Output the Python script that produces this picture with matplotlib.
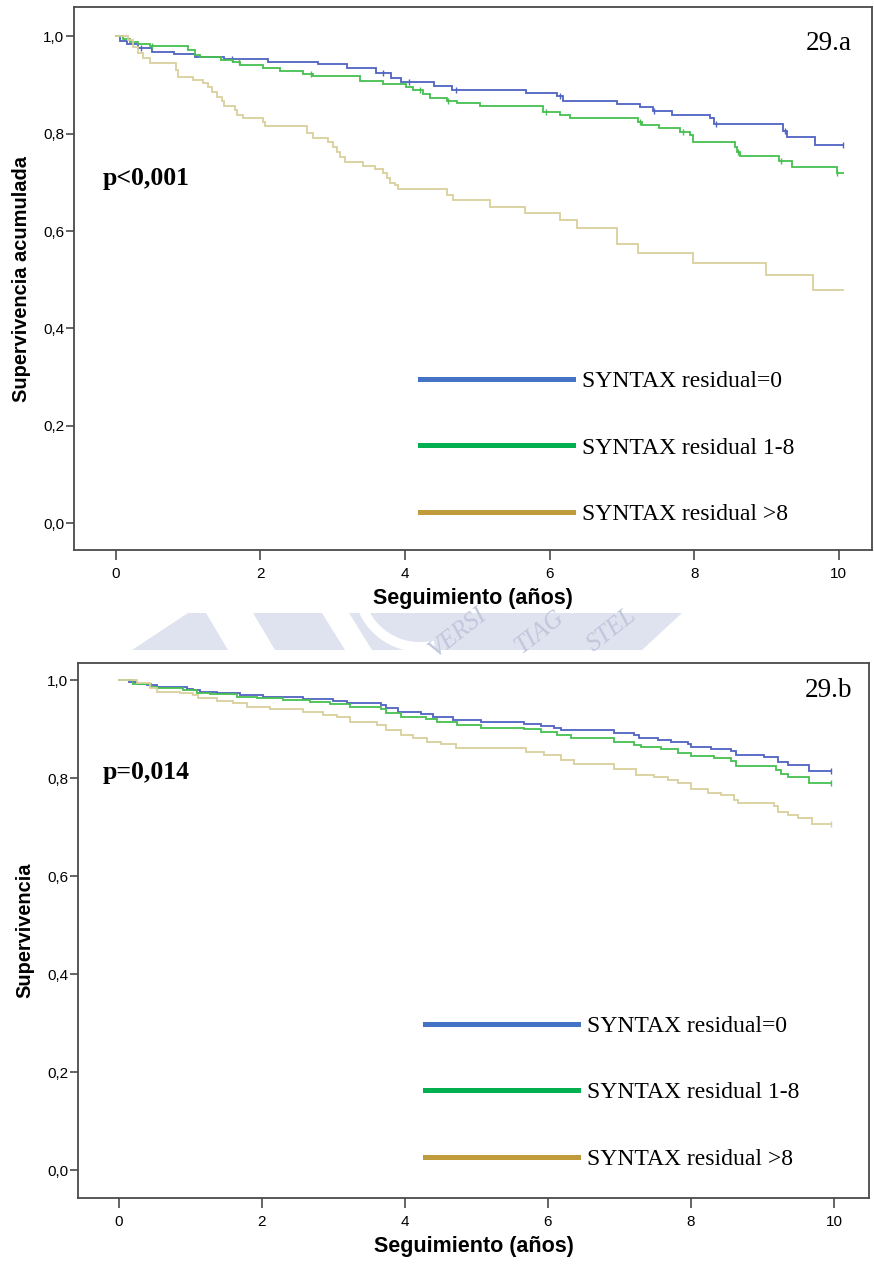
import numpy as np
import matplotlib
matplotlib.use("Agg")
import matplotlib.pyplot as plt
from matplotlib.lines import Line2D
from matplotlib.patches import Polygon

# ---------------- data ----------------
group_labels = ["SYNTAX residual=0", "SYNTAX residual 1-8", "SYNTAX residual >8"]

# 29.a  Kaplan-Meier (event times, survival after the event)
a0_t = [0.05, 0.15, 0.30, 0.50, 0.80, 1.10, 1.50, 2.10, 2.80, 3.20, 3.60, 3.80, 3.95,
        4.40, 4.65, 5.68, 6.10, 6.18, 6.93, 7.25, 7.43, 7.70, 8.22, 8.28, 9.23, 9.28, 9.67]
a0_s = [0.990, 0.985, 0.975, 0.968, 0.964, 0.958, 0.953, 0.948, 0.943, 0.935, 0.925, 0.915,
        0.905, 0.897, 0.889, 0.883, 0.877, 0.867, 0.860, 0.854, 0.846, 0.838, 0.832, 0.819,
        0.805, 0.793, 0.776]
a0_end = 10.06
a0_cens = [0.35, 1.6, 3.7, 4.05, 4.7, 6.15, 7.45, 8.3, 9.25, 10.06]

a1_t = [0.10, 0.19, 0.30, 0.47, 1.00, 1.09, 1.16, 1.45, 1.62, 1.72, 2.03, 2.27, 2.59, 2.72,
        3.37, 3.69, 4.02, 4.11, 4.25, 4.34, 4.58, 4.72, 5.03, 5.91, 6.14, 6.28, 7.22, 7.28,
        7.52, 7.80, 7.94, 7.98, 8.56, 8.59, 8.63, 9.18, 9.36, 9.97]
a1_s = [0.994, 0.988, 0.984, 0.979, 0.971, 0.961, 0.957, 0.952, 0.947, 0.940, 0.934, 0.928,
        0.922, 0.918, 0.908, 0.901, 0.895, 0.889, 0.881, 0.873, 0.866, 0.862, 0.856, 0.844,
        0.838, 0.832, 0.823, 0.817, 0.811, 0.803, 0.797, 0.782, 0.772, 0.762, 0.754, 0.743,
        0.731, 0.719]
a1_end = 10.06
a1_cens = [0.5, 1.7, 2.7, 4.2, 4.6, 5.95, 7.25, 7.85, 8.6, 9.2, 9.97]

a2_t = [0.17, 0.24, 0.30, 0.37, 0.47, 0.83, 0.86, 1.07, 1.20, 1.27, 1.33, 1.40, 1.47, 1.49,
        1.65, 1.67, 1.76, 2.03, 2.06, 2.64, 2.72, 2.93, 3.00, 3.06, 3.10, 3.17, 3.42, 3.58,
        3.69, 3.75, 3.79, 3.86, 3.90, 4.58, 4.66, 5.17, 5.66, 6.15, 6.38, 6.93, 7.22, 7.99,
        9.00, 9.64]
a2_s = [0.992, 0.977, 0.965, 0.955, 0.945, 0.930, 0.916, 0.910, 0.903, 0.895, 0.885, 0.875,
        0.867, 0.856, 0.848, 0.838, 0.832, 0.823, 0.815, 0.801, 0.791, 0.782, 0.772, 0.762,
        0.752, 0.741, 0.733, 0.727, 0.719, 0.708, 0.698, 0.694, 0.686, 0.673, 0.663, 0.649,
        0.637, 0.622, 0.606, 0.573, 0.554, 0.534, 0.509, 0.478]
a2_end = 10.06

# 29.b  Adjusted survival
b0_t = [0.15, 0.25, 0.39, 0.53, 0.95, 1.04, 1.13, 1.37, 1.69, 2.02, 2.58, 3.00, 3.19, 3.66,
        3.73, 3.91, 4.22, 4.40, 4.68, 5.06, 5.66, 5.90, 6.08, 6.18, 6.92, 7.20, 7.27, 7.54,
        7.72, 7.96, 8.00, 8.28, 8.56, 8.63, 9.02, 9.22, 9.36, 9.65]
b0_s = [0.996, 0.993, 0.990, 0.986, 0.982, 0.979, 0.976, 0.974, 0.969, 0.965, 0.962, 0.957,
        0.953, 0.949, 0.943, 0.935, 0.930, 0.924, 0.918, 0.914, 0.911, 0.907, 0.903, 0.898,
        0.892, 0.888, 0.882, 0.878, 0.873, 0.870, 0.863, 0.859, 0.855, 0.847, 0.843, 0.833,
        0.827, 0.814]
b0_end = 9.96

b1_t = [0.20, 0.45, 0.53, 0.90, 1.10, 1.28, 1.65, 1.93, 2.30, 2.67, 2.95, 3.24, 3.66, 3.73,
        3.94, 4.30, 4.45, 4.73, 5.06, 5.66, 5.90, 6.13, 6.32, 6.92, 7.20, 7.30, 7.58, 7.82,
        8.00, 8.32, 8.56, 8.63, 9.19, 9.26, 9.36, 9.65]
b1_s = [0.993, 0.986, 0.984, 0.980, 0.973, 0.971, 0.965, 0.963, 0.959, 0.955, 0.951, 0.945,
        0.941, 0.933, 0.924, 0.920, 0.914, 0.908, 0.903, 0.900, 0.894, 0.888, 0.882, 0.873,
        0.867, 0.863, 0.859, 0.851, 0.845, 0.841, 0.835, 0.824, 0.816, 0.808, 0.802, 0.790]
b1_end = 9.96

b2_t = [0.25, 0.43, 0.53, 0.85, 1.04, 1.11, 1.37, 1.60, 1.79, 2.11, 2.58, 2.86, 3.05, 3.24,
        3.61, 3.73, 3.94, 4.12, 4.31, 4.50, 4.71, 5.69, 5.94, 6.18, 6.36, 6.92, 7.23, 7.48,
        7.68, 7.82, 8.00, 8.24, 8.42, 8.60, 8.66, 9.16, 9.22, 9.36, 9.50, 9.69]
b2_s = [0.994, 0.984, 0.976, 0.973, 0.969, 0.963, 0.957, 0.953, 0.945, 0.941, 0.935, 0.929,
        0.924, 0.914, 0.908, 0.898, 0.888, 0.882, 0.873, 0.869, 0.861, 0.853, 0.847, 0.837,
        0.829, 0.818, 0.806, 0.802, 0.796, 0.790, 0.778, 0.769, 0.765, 0.755, 0.749, 0.743,
        0.731, 0.724, 0.718, 0.706]
b2_end = 9.96

x_ticks = [0, 2, 4, 6, 8, 10]
y_ticks = [0.0, 0.2, 0.4, 0.6, 0.8, 1.0]
y_ticklabels = ["0,0", "0,2", "0,4", "0,6", "0,8", "1,0"]

# ---------------- style ----------------
curve_colors = ["#4f63c2", "#45bf4f", "#d9d09c"]
legend_colors = ["#4472c4", "#00b050", "#c09b3c"]
spine_color = "#4a4a4a"
sans = ["Liberation Sans Narrow", "Liberation Sans", "DejaVu Sans"]
serif = ["Liberation Serif", "DejaVu Serif"]

W, H = 874, 1264
fig = plt.figure(figsize=(W / 100, H / 100), dpi=100)


def px_axes(left, top, right, bottom):
    return fig.add_axes([left / W, 1 - bottom / H, (right - left) / W, (bottom - top) / H])


def km_curve(ax, t, s, end, color):
    xs = np.r_[0.0, t, end]
    ys = np.r_[1.0, s, s[-1]]
    ax.step(xs, ys, where="post", color=color, lw=1.3, solid_joinstyle="miter")
    return xs, ys


def censor_marks(ax, xs, ys, cens, color):
    cens = np.asarray(cens)
    idx = np.searchsorted(xs, cens, side="right") - 1
    ax.plot(cens, ys[idx], ls="none", marker="|", ms=5, mew=1.0, color=color)


def style_axes(ax, xlim, ylim, ylabel):
    ax.set_xlim(*xlim)
    ax.set_ylim(*ylim)
    ax.set_xticks(x_ticks)
    ax.set_xticklabels([str(v) for v in x_ticks], family=sans, fontsize=11)
    ax.set_yticks(y_ticks)
    ax.set_yticklabels(y_ticklabels, family=sans, fontsize=11)
    ax.tick_params(axis="x", direction="out", length=7, width=1.2, color=spine_color, pad=5)
    ax.tick_params(axis="y", direction="out", length=6, width=1.2, color=spine_color, pad=1)
    for sp in ax.spines.values():
        sp.set_color(spine_color)
        sp.set_linewidth(1.3)
    ax.set_xlabel("Seguimiento (años)", family=sans, fontsize=15.5, fontweight="bold",
                  labelpad=5)
    ax.set_ylabel(ylabel, family=sans, fontsize=14.4, fontweight="bold", labelpad=9)


def add_legend(ax, anchor):
    handles = [Line2D([0], [0], color=c, lw=3.6) for c in legend_colors]
    leg = ax.legend(handles, group_labels, loc="upper left", bbox_to_anchor=anchor,
                    frameon=False, prop={"family": serif, "size": 17},
                    handlelength=6.5, handletextpad=0.38, labelspacing=1.9,
                    borderpad=0, borderaxespad=0)
    return leg


# ---------------- 29.a ----------------
ax1 = px_axes(74, 7, 872, 550)
xs, ys = km_curve(ax1, a0_t, a0_s, a0_end, curve_colors[0])
censor_marks(ax1, xs, ys, a0_cens, curve_colors[0])
xs, ys = km_curve(ax1, a1_t, a1_s, a1_end, curve_colors[1])
censor_marks(ax1, xs, ys, a1_cens, curve_colors[1])
km_curve(ax1, a2_t, a2_s, a2_end, curve_colors[2])
style_axes(ax1, (-0.58, 10.46), (-0.055, 1.06), "Supervivencia acumulada")
add_legend(ax1, (0.4336, 0.330))
ax1.text(0.0363, 0.685, "p<0,001", transform=ax1.transAxes, family=serif, fontsize=18.5,
         fontweight="bold", va="center", ha="left")
ax1.text(0.917, 0.932, "29.a", transform=ax1.transAxes, family=serif, fontsize=19.5,
         va="center", ha="left")

# ---------------- 29.b ----------------
ax2 = px_axes(78, 663, 869, 1198)
for (t, s, e), c in zip([(b0_t, b0_s, b0_end), (b1_t, b1_s, b1_end), (b2_t, b2_s, b2_end)],
                        curve_colors):
    xs, ys = km_curve(ax2, t, s, e, c)
    censor_marks(ax2, xs, ys, [e], c)
style_axes(ax2, (-0.57, 10.49), (-0.057, 1.035), "Supervivencia")
add_legend(ax2, (0.4387, 0.341))
ax2.text(0.0316, 0.796, "p=0,014", transform=ax2.transAxes, family=serif, fontsize=18.5,
         fontweight="bold", va="center", ha="left")
ax2.text(0.919, 0.949, "29.b", transform=ax2.transAxes, family=serif, fontsize=19.5,
         va="center", ha="left")

# ---------------- faint institutional seal between the panels ----------------
def fpx(x, y):
    return (x / W, 1 - y / H)


wm_color = "#dfe3ef"
band = Polygon([fpx(188, 613), fpx(682, 613), fpx(642, 650), fpx(132, 650)],
               closed=True, transform=fig.transFigure, facecolor=wm_color,
               edgecolor="none", zorder=0)
fig.patches.append(band)
for poly in ([(206, 613), (253, 613), (275, 650), (228, 650)],
             [(322, 613), (349, 613), (372, 650), (345, 650)]):
    fig.patches.append(Polygon([fpx(*p) for p in poly], closed=True,
                               transform=fig.transFigure, facecolor="white",
                               edgecolor="none", zorder=0.5))
theta = np.linspace(np.pi * 1.05, np.pi * 1.55, 40)
cx, cy, r = 420, 585, 62
fig.lines.append(Line2D([(cx + r * np.cos(a)) / W for a in theta],
                        [1 - (cy - r * np.sin(a)) / H for a in theta],
                        transform=fig.transFigure, color="white", lw=7, zorder=0.6))
for word, x, y in (("VERSI", 458, 633), ("TIAG", 540, 632), ("STEL", 612, 630)):
    fig.text(x / W, 1 - y / H, word, family=serif, style="italic", fontsize=18,
             color="#c0c7dc", rotation=38, ha="center", va="center", zorder=0.7)

fig.savefig("out.png", dpi=100)
